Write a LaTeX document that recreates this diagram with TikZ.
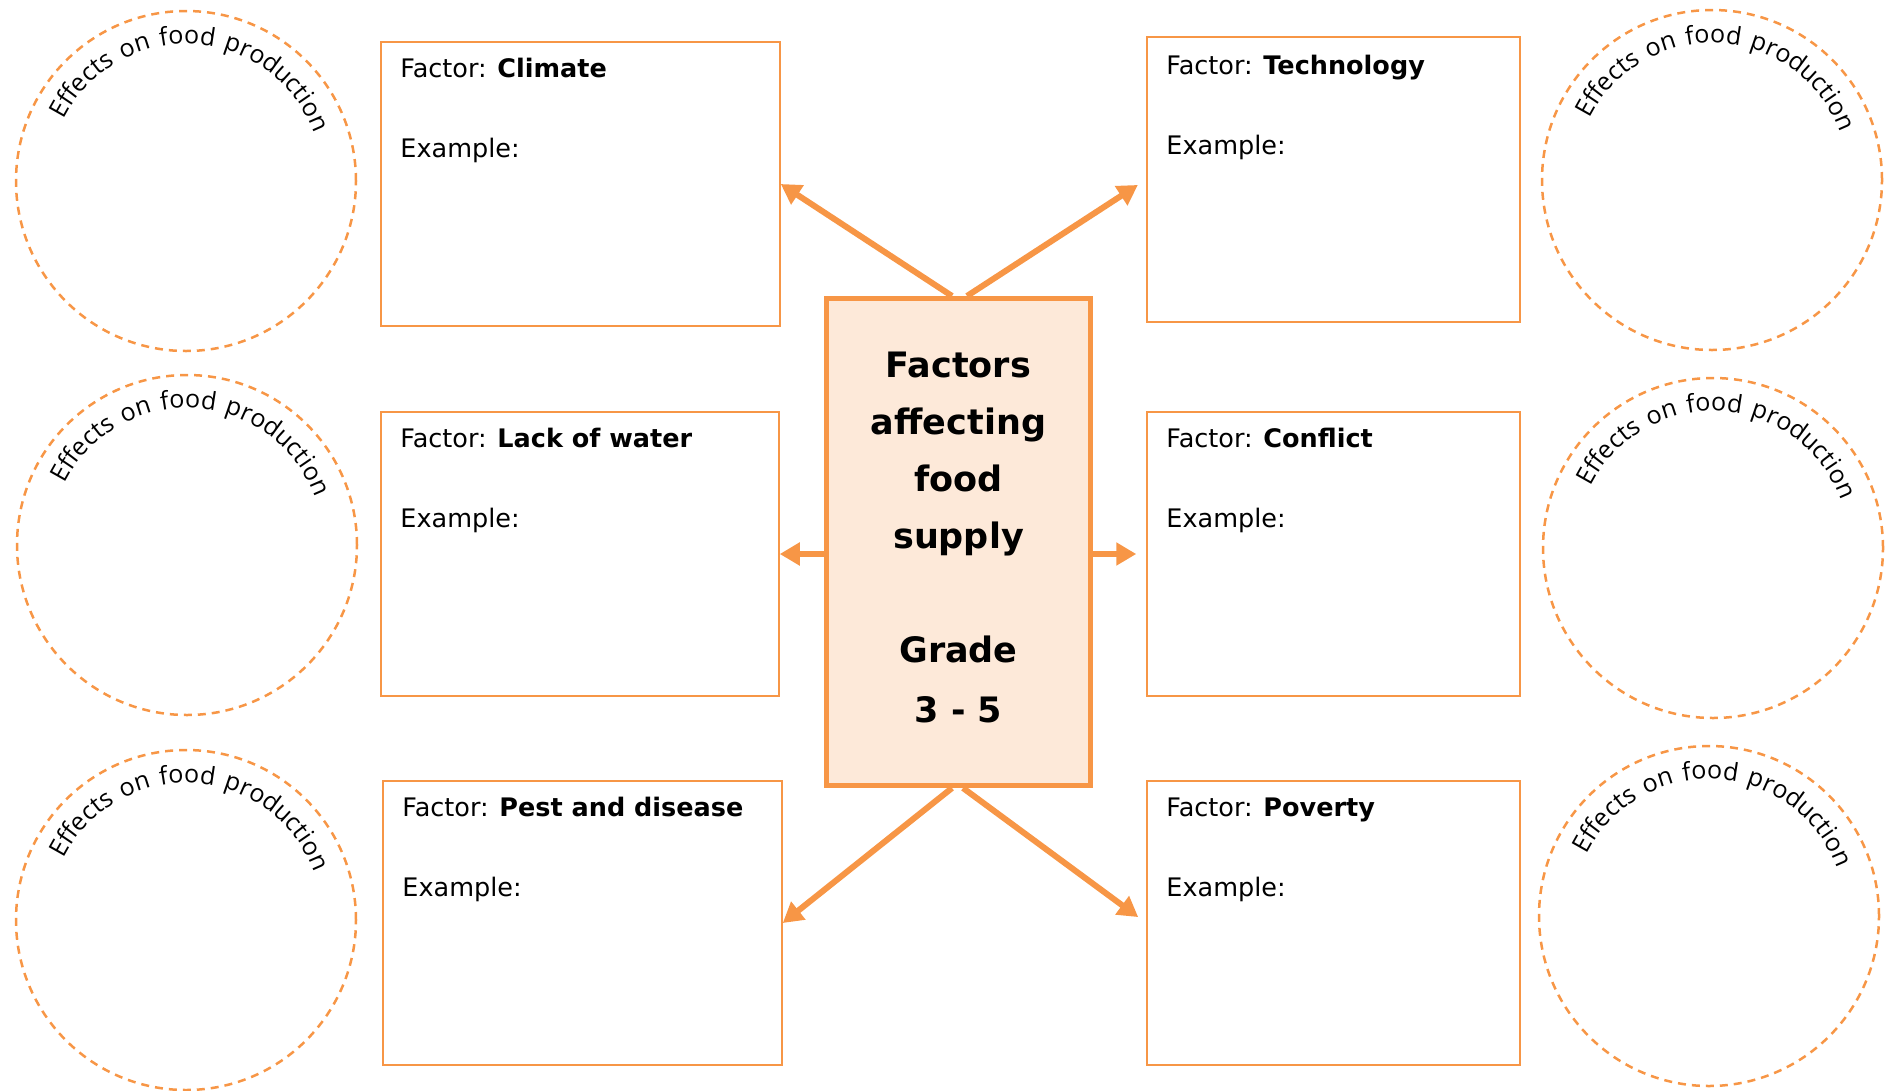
\documentclass[tikz,border=0pt]{standalone}
\usepackage{fontspec}
\setmainfont{DejaVu Sans}
\newfontfamily\circfont[LetterSpace=11]{Open Sans}
\usetikzlibrary{arrows.meta,decorations.text}
\definecolor{fsorange}{HTML}{F79646}
\definecolor{fspeach}{HTML}{FDE9D9}
\tikzset{
  effect/.style={circle,draw=fsorange,line width=2.5pt,dash pattern=on 8pt off 6pt,minimum size=340pt,inner sep=0pt},
  factor/.style={rectangle,draw=fsorange,line width=1.5pt,inner sep=0pt},
  ftext/.style={anchor=base west,inner sep=0pt,font=\fontsize{25.5}{30}\selectfont},
  arr/.style={draw=fsorange,line width=6pt,-{Triangle[length=20pt,width=22pt]}},
  gap/.style={shorten >=10pt},
}
\newcommand{\effecttext}[1]{\path[decorate,decoration={text along path,text align=center,
  text={|\circfont\fontsize{25}{25}\selectfont|Effects on food production}}]
  ([shift={(182:137)}]#1.center) arc[start angle=182,end angle=364,radius=137];}

\begin{document}
\begin{tikzpicture}[x=1pt,y=-1pt]
\useasboundingbox (0,0) rectangle (1889,1090);
% centre box
\node[draw=fsorange,fill=fspeach,line width=5pt,minimum width=264pt,minimum height=487pt] (hub) at (958.5,542) {};
\node[align=center,font=\bfseries\fontsize{35}{57}\selectfont] (hubtext) at ([yshift=5pt]hub.center)
  {Factors\\affecting\\food\\supply\\[57pt]Grade\\[3pt]3 - 5};
% factor boxes
\node[factor,minimum width=399pt,minimum height=284pt] (climate) at (580.5,184) {};
\node[factor,minimum width=373pt,minimum height=285pt] (tech) at (1333.5,179.5) {};
\node[factor,minimum width=398pt,minimum height=284pt] (water) at (580,554) {};
\node[factor,minimum width=373pt,minimum height=284pt] (conflict) at (1333.5,554) {};
\node[factor,minimum width=399pt,minimum height=284pt] (pest) at (582.5,923) {};
\node[factor,minimum width=373pt,minimum height=284pt] (poverty) at (1333.5,923) {};
\node[ftext] (climateF) at ([shift={(20,36)}]climate.north west) {Factor: \textbf{Climate}};
\node[ftext] (climateE) at ([shift={(20,116)}]climate.north west) {Example:};
\node[ftext] (techF) at ([shift={(20,38)}]tech.north west) {Factor: \textbf{Technology}};
\node[ftext] (techE) at ([shift={(20,118)}]tech.north west) {Example:};
\node[ftext] (waterF) at ([shift={(20,36)}]water.north west) {Factor: \textbf{Lack of water}};
\node[ftext] (waterE) at ([shift={(20,116)}]water.north west) {Example:};
\node[ftext] (conflictF) at ([shift={(20,36)}]conflict.north west) {Factor: \textbf{Conflict}};
\node[ftext] (conflictE) at ([shift={(20,116)}]conflict.north west) {Example:};
\node[ftext] (pestF) at ([shift={(20,36)}]pest.north west) {Factor: \textbf{Pest and disease}};
\node[ftext] (pestE) at ([shift={(20,116)}]pest.north west) {Example:};
\node[ftext] (povertyF) at ([shift={(20,36)}]poverty.north west) {Factor: \textbf{Poverty}};
\node[ftext] (povertyE) at ([shift={(20,116)}]poverty.north west) {Example:};
% arrows
\draw[arr] ([xshift=-6.5pt]hub.north) -- (climate.east);
\draw[arr,gap] ([xshift=8.5pt]hub.north) -- (tech.west);
\draw[arr] (hub.west |- water.east) -- (water.east);
\draw[arr,gap] (hub.east |- conflict.west) -- (conflict.west);
\draw[arr] ([xshift=-6.5pt]hub.south) -- (pest.east);
\draw[arr,gap] ([xshift=4.5pt]hub.south) -- (poverty.west);
% effect circles
\node[effect] (effA) at (186,181) {};
\node[effect] (effB) at (187,545) {};
\node[effect] (effC) at (186,920) {};
\node[effect] (effD) at (1712,180) {};
\node[effect] (effE) at (1713,548) {};
\node[effect] (effF) at (1709,916) {};
\effecttext{effA}
\effecttext{effB}
\effecttext{effC}
\effecttext{effD}
\effecttext{effE}
\effecttext{effF}
\end{tikzpicture}
\end{document}
